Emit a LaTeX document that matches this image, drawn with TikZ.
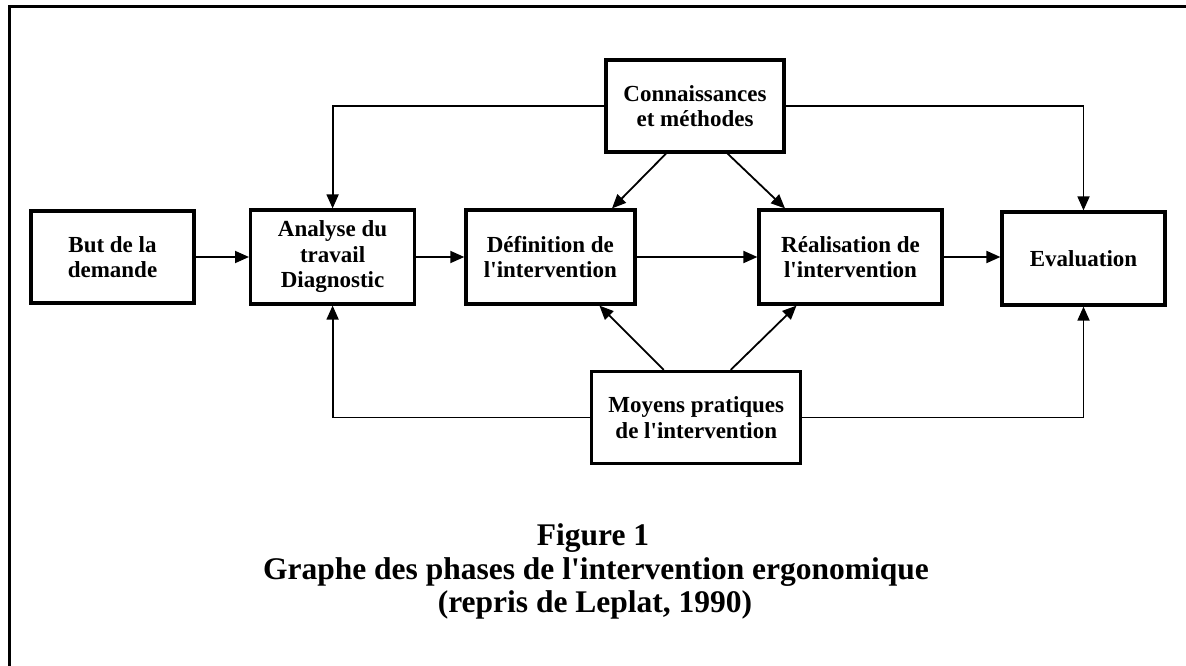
\documentclass[tikz,border=0pt]{standalone}
\usepackage{fontspec}
\setmainfont{Liberation Serif}[Ligatures=TeXOff]
\usetikzlibrary{arrows.meta}
\begin{document}
\begin{tikzpicture}[x=1pt, y=-1pt,
  phase/.style = {draw, line width=3.2pt, align=center, inner sep=0pt,
    font=\bfseries\fontsize{23}{25.5}\selectfont},
  lien/.style = {line width=1.8pt, -{Triangle[length=14pt,width=12pt]}},
  legende/.style = {font=\bfseries\fontsize{31.5}{33}\selectfont}]
\useasboundingbox (0,0) rectangle (1186,666);
\draw [line width=3pt] (9,666) -- (9,7) -- (1186,7);
\node (but) [phase, minimum width=163pt, minimum height=92pt] at (112.5,257) {But de la\\demande};
\node (analyse) [phase, minimum width=164pt, minimum height=94pt] at (332.6,257) {Analyse du\\travail\\Diagnostic};
\node (definition) [phase, minimum width=169pt, minimum height=94pt] at (550.4,257) {Définition de\\l'intervention};
\node (realisation) [phase, minimum width=183pt, minimum height=94pt] at (850.5,257) {Réalisation de\\l'intervention};
\node (evaluation) [phase, minimum width=163pt, minimum height=93pt] at (1083.5,258.5) {Evaluation};
\node (connaissances) [phase, minimum width=178pt, minimum height=92pt] at (695,106) {Connaissances\\et méthodes};
\node (moyens) [phase, minimum width=209pt, minimum height=92pt] at (696.3,417.5) {Moyens pratiques\\de l'intervention};
\draw [lien] (but) -- (analyse);
\draw [lien] (analyse) -- (definition);
\draw [lien] (definition) -- (realisation);
\draw [lien] (realisation.east) -- (realisation.east -| evaluation.west);
\draw [lien] (connaissances.west) -| (analyse.north);
\draw [lien] (connaissances.east) -| (evaluation.north);
\draw [lien] (moyens.west) -| (analyse.south);
\draw [lien] (moyens.east) -| (evaluation.south);
\draw [lien] ([xshift=-29pt]connaissances.south) -- ([xshift=61.6pt]definition.north);
\draw [lien] ([xshift=32.6pt]connaissances.south) -- ([xshift=-65.5pt]realisation.north);
\draw [lien] ([xshift=-32.6pt]moyens.north) -- ([xshift=49pt]definition.south);
\draw [lien] ([xshift=34.4pt]moyens.north) -- ([xshift=-54pt]realisation.south);
\node (titre) [legende, anchor=base] at (593,545) {Figure 1};
\node (sujet) [legende, anchor=base] at (596,579) {Graphe des phases de l'intervention ergonomique};
\node (source) [legende, anchor=base] at (595,612) {(repris de Leplat, 1990)};
\end{tikzpicture}
\end{document}
